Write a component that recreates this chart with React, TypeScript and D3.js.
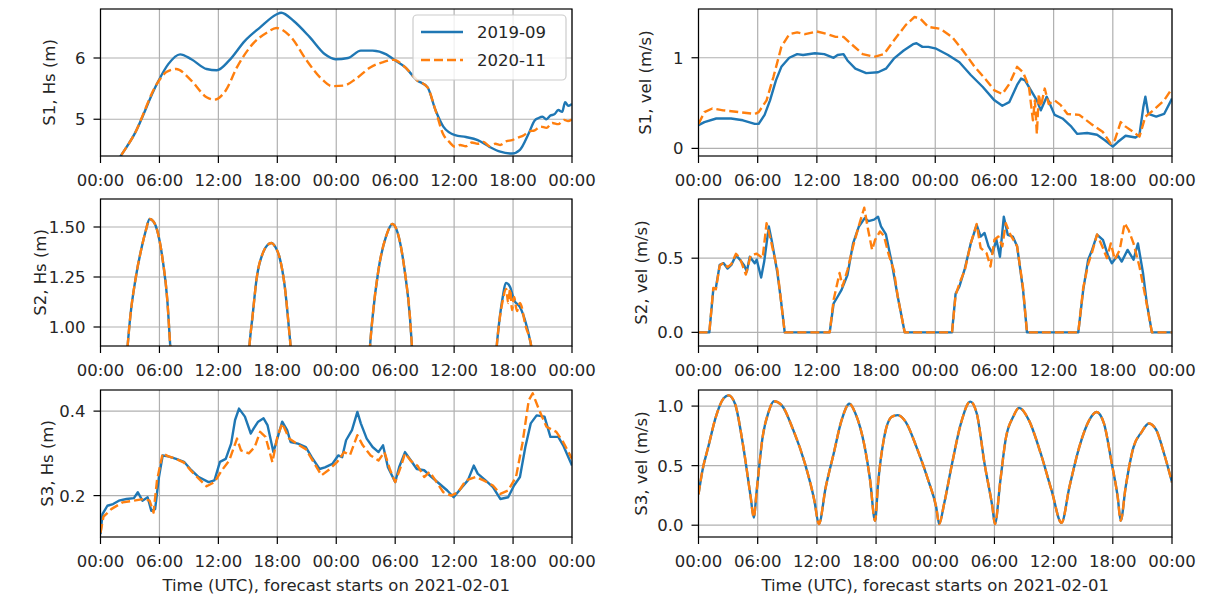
import React, { useEffect, useRef } from "react";
import * as d3 from "d3";

// ---------------- data (hours since 2021-02-01 00:00 UTC, value) ----------------
const START = Date.UTC(2021, 1, 1);
const xTickHours = [0, 6, 12, 18, 24, 30, 36, 42, 48];
const seriesNames = ["2019-09", "2020-11"];
const xLabel = "Time (UTC), forecast starts on 2021-02-01";

const s1Hs2019: [number, number][] = [
  [0, 3.88], [2.06, 4.4], [3.4, 4.74], [5.75, 5.58], [6.9, 5.9], [8.1, 6.06], [9.25, 5.98],
  [10.8, 5.82], [11.85, 5.8], [13.1, 5.96], [14.7, 6.28], [16.25, 6.5], [17.9, 6.71], [18.4, 6.74],
  [19.7, 6.6], [21.3, 6.34], [22.85, 6.06], [23.9, 5.98], [25.2, 6.0], [26.5, 6.12], [27.7, 6.12],
  [29.1, 6.06], [29.9, 5.97], [31, 5.85], [32.2, 5.64], [33.3, 5.52], [34.1, 5.15], [34.9, 4.88],
  [36.1, 4.74], [37.2, 4.71], [38.4, 4.66], [39.6, 4.55], [40.7, 4.47], [41.9, 4.44], [42.7, 4.5],
  [43.6, 4.77], [44.2, 4.98], [44.6, 5.02], [45, 5.04], [45.4, 5.0], [45.8, 5.06], [46.2, 5.08],
  [46.6, 5.15], [47, 5.12], [47.3, 5.28], [47.6, 5.22], [48, 5.25],
];
const s1Hs2020: [number, number][] = [
  [0, 3.88], [2.06, 4.4], [3.4, 4.74], [5.75, 5.58], [6.7, 5.77], [7.7, 5.82], [9.25, 5.63],
  [10.8, 5.36], [11.6, 5.32], [12.75, 5.47], [13.9, 5.85], [15.5, 6.23], [17.0, 6.42], [17.9, 6.49],
  [19.4, 6.34], [20.9, 5.98], [22.5, 5.66], [23.6, 5.54], [24.8, 5.55], [26, 5.66], [27.5, 5.85],
  [28.7, 5.93], [29.85, 5.97], [31, 5.85], [32.2, 5.64], [33.3, 5.52], [34.1, 5.15], [34.9, 4.75],
  [35.5, 4.63], [36.1, 4.55], [36.6, 4.58], [37.2, 4.56], [37.8, 4.62], [38.4, 4.6], [39, 4.63],
  [39.6, 4.56], [40.2, 4.6], [40.7, 4.58], [41.3, 4.64], [41.9, 4.66], [42.5, 4.7], [43.1, 4.74],
  [43.6, 4.8], [44.2, 4.82], [44.8, 4.88], [45.4, 4.86], [46, 4.94], [46.6, 4.92], [47.2, 4.99],
  [47.6, 4.97], [48, 5.0],
];

const s1Vel2019: [number, number][] = [
  [0, 0.256], [0.6, 0.29], [1.8, 0.33], [3.3, 0.33], [4.5, 0.31], [5.7, 0.27], [6.1, 0.27],
  [6.7, 0.37], [7.25, 0.53], [7.85, 0.75], [8.4, 0.9], [9.2, 1.0], [10, 1.04], [10.6, 1.03],
  [11.8, 1.05], [12.75, 1.04], [13.7, 1.0], [14.1, 1.03], [14.7, 1.04], [15.1, 0.97], [15.9, 0.88],
  [17, 0.83], [18.2, 0.84], [19, 0.88], [19.8, 0.99], [20.8, 1.08], [21.75, 1.15], [22.1, 1.16],
  [22.7, 1.12], [23.3, 1.12], [24.1, 1.1], [25.3, 1.03], [26.45, 0.95], [27.6, 0.81], [28.8, 0.68],
  [30, 0.53], [30.8, 0.47], [31.5, 0.51], [32.3, 0.7], [32.7, 0.77], [33.1, 0.75], [33.7, 0.64],
  [34.3, 0.53], [34.7, 0.42], [35.3, 0.57], [36.1, 0.37], [36.9, 0.33], [37.8, 0.24], [38.4, 0.16],
  [39.4, 0.17], [40.4, 0.15], [41.2, 0.09], [42, 0.02], [42.5, 0.07], [43.3, 0.14], [44.3, 0.12],
  [44.7, 0.15], [45.1, 0.46], [45.3, 0.57], [45.6, 0.38], [46.4, 0.35], [47.2, 0.38], [48, 0.55],
];
const s1Vel2020: [number, number][] = [
  [0, 0.27], [0.6, 0.4], [1.4, 0.44], [2.5, 0.42], [4.1, 0.4], [5.7, 0.38], [6.1, 0.4], [6.9, 0.53],
  [7.6, 0.79], [8.4, 1.12], [9.2, 1.26], [10, 1.28], [10.8, 1.26], [12, 1.29], [13.1, 1.26],
  [13.9, 1.23], [14.7, 1.23], [15.5, 1.15], [16.65, 1.04], [17.8, 1.01], [18.8, 1.04], [19.8, 1.19],
  [21, 1.36], [21.9, 1.45], [22.5, 1.43], [23.3, 1.34], [24.5, 1.32], [25.7, 1.23], [26.8, 1.08],
  [28, 0.9], [29.2, 0.75], [30, 0.64], [30.8, 0.6], [31.5, 0.71], [32.3, 0.9], [32.9, 0.84],
  [33.5, 0.68], [33.9, 0.31], [34.1, 0.53], [34.3, 0.16], [34.5, 0.6], [34.7, 0.46], [35.1, 0.66],
  [35.5, 0.49], [36.1, 0.53], [36.7, 0.48], [37.4, 0.38], [38.6, 0.37], [39.8, 0.27], [41, 0.18],
  [41.8, 0.05], [42.2, 0.09], [42.8, 0.29], [43.3, 0.24], [44.1, 0.18], [44.7, 0.13], [45.3, 0.35],
  [46.1, 0.42], [47.2, 0.53], [48, 0.66],
];

// S2 Hs: peaks 1-3 coincide for both forecasts, peak 4 differs
const s2HsPeaks: [number, number][] = [
  [0, 0.5], [2.3, 0.6], [2.76, 0.905], [3.03, 1.05], [3.6, 1.25], [4.2, 1.4], [4.6, 1.48], [5.0, 1.54],
  [5.35, 1.53], [5.75, 1.487], [6.33, 1.336], [6.8, 1.135], [7.1, 0.905], [7.5, 0.6], [14.8, 0.6],
  [15.16, 0.905], [15.47, 1.05], [15.9, 1.244], [16.6, 1.378], [17.0, 1.41], [17.4, 1.42], [17.8, 1.4],
  [18.2, 1.353], [18.8, 1.186], [19.2, 0.985], [19.35, 0.905], [19.7, 0.6], [27.1, 0.6], [27.44, 0.905],
  [27.7, 1.05], [28.3, 1.286], [29.07, 1.453], [29.73, 1.515], [30.43, 1.437], [31, 1.27], [31.5, 1.05],
  [31.7, 0.905], [32.1, 0.6], [40.0, 0.6],
];
const s2HsPeak4_2019: [number, number][] = [
  [40.34, 0.905], [40.5, 0.985], [40.9, 1.135], [41.3, 1.22], [41.7, 1.2], [42.1, 1.135], [42.7, 1.1],
  [43.3, 1.02], [43.7, 0.94], [43.84, 0.905], [44.2, 0.6], [48, 0.6],
];
const s2HsPeak4_2020: [number, number][] = [
  [40.34, 0.905], [40.5, 0.985], [40.9, 1.12], [41.3, 1.19], [41.5, 1.12], [41.7, 1.19], [41.9, 1.085],
  [42.1, 1.15], [42.4, 1.08], [42.7, 1.12], [43.3, 1.0], [43.7, 0.94], [43.84, 0.905], [44.2, 0.6], [48, 0.6],
];

const s2Vel2019: [number, number][] = [
  [0, 0], [1.1, 0], [1.5, 0.29], [1.76, 0.3], [2.15, 0.455], [2.55, 0.466], [2.94, 0.43], [3.33, 0.455],
  [3.8, 0.52], [4.2, 0.49], [4.6, 0.455], [4.9, 0.41], [5.2, 0.51], [5.7, 0.466], [5.9, 0.49], [6.35, 0.37],
  [6.66, 0.477], [7.13, 0.714], [7.45, 0.61], [8.0, 0.4], [8.35, 0.22], [8.74, 0], [13.3, 0], [13.7, 0.196],
  [14.1, 0.24], [14.5, 0.286], [15.1, 0.387], [15.67, 0.6], [16.26, 0.714], [16.85, 0.77], [17.24, 0.75],
  [17.8, 0.76], [18.2, 0.78], [18.5, 0.714], [19, 0.66], [19.6, 0.466], [20.2, 0.24], [20.9, 0], [25.7, 0],
  [26.06, 0.26], [26.45, 0.31], [27, 0.43], [27.6, 0.6], [28.2, 0.725], [28.6, 0.646], [29, 0.67],
  [29.4, 0.58], [29.8, 0.534], [30.2, 0.624], [30.56, 0.51], [30.95, 0.78], [31.35, 0.658], [31.86, 0.646],
  [32.3, 0.58], [32.9, 0.286], [33.3, 0], [38.5, 0], [39, 0.286], [39.5, 0.49], [39.9, 0.556], [40.4, 0.658],
  [41, 0.624], [41.5, 0.52], [41.9, 0.466], [42.5, 0.52], [42.9, 0.477], [43.5, 0.556], [44.1, 0.49],
  [44.55, 0.6], [45.06, 0.4], [45.45, 0.196], [45.96, 0], [48, 0],
];
const s2Vel2020: [number, number][] = [
  [0, 0], [1.1, 0], [1.5, 0.3], [1.76, 0.29], [2.15, 0.45], [2.55, 0.47], [2.94, 0.44], [3.33, 0.46],
  [3.8, 0.53], [4.2, 0.5], [4.8, 0.39], [5.3, 0.52], [5.9, 0.53], [6.5, 0.5], [6.9, 0.736], [7.3, 0.63],
  [8.0, 0.42], [8.35, 0.22], [8.74, 0], [13.3, 0], [13.7, 0.22], [14.3, 0.4], [14.6, 0.31], [15.1, 0.42],
  [15.67, 0.58], [16.26, 0.72], [16.8, 0.84], [17.2, 0.69], [17.6, 0.556], [17.9, 0.624], [18.4, 0.68],
  [18.8, 0.65], [19.3, 0.52], [19.8, 0.42], [20.2, 0.24], [20.9, 0], [25.7, 0], [26.06, 0.25],
  [26.45, 0.33], [27, 0.42], [27.6, 0.6], [28.2, 0.73], [28.6, 0.57], [29.2, 0.534], [29.6, 0.444],
  [30, 0.624], [30.4, 0.646], [30.8, 0.58], [31.15, 0.736], [31.6, 0.66], [32.3, 0.58], [32.9, 0.3],
  [33.3, 0], [38.5, 0], [39, 0.3], [39.5, 0.46], [39.9, 0.54], [40.4, 0.66], [41, 0.568], [41.4, 0.5],
  [41.8, 0.6], [42.2, 0.49], [42.7, 0.556], [43.2, 0.736], [43.6, 0.69], [44.1, 0.6], [44.7, 0.444],
  [45.3, 0.24], [45.96, 0], [48, 0],
];

const s3Hs2019: [number, number][] = [
  [0, 0.109], [0.2, 0.156], [0.7, 0.176], [1.28, 0.18], [1.87, 0.188], [2.64, 0.192], [3.4, 0.194],
  [3.8, 0.208], [4.27, 0.188], [4.8, 0.196], [5.17, 0.164], [5.56, 0.168], [5.95, 0.244], [6.33, 0.295],
  [6.9, 0.293], [7.7, 0.287], [8.5, 0.28], [9.25, 0.26], [10, 0.244], [11, 0.232], [11.6, 0.236],
  [12.16, 0.28], [12.75, 0.287], [13.3, 0.323], [13.7, 0.379], [14.1, 0.406], [14.7, 0.387],
  [15.3, 0.347], [15.6, 0.359], [16.05, 0.375], [16.6, 0.383], [17.0, 0.367], [17.6, 0.303], [18, 0.335],
  [18.5, 0.375], [19, 0.355], [19.35, 0.327], [20.1, 0.323], [20.9, 0.315], [21.5, 0.291], [22.3, 0.263],
  [22.85, 0.267], [23.6, 0.275], [24.2, 0.295], [24.6, 0.291], [25, 0.331], [25.6, 0.355], [26.15, 0.398],
  [26.5, 0.371], [27.1, 0.335], [27.7, 0.315], [28.3, 0.303], [28.76, 0.319], [29.26, 0.267], [30, 0.232],
  [30.4, 0.267], [31, 0.303], [31.6, 0.283], [32.2, 0.263], [32.95, 0.26], [33.7, 0.244], [34.5, 0.228],
  [35.3, 0.212], [35.95, 0.196], [36.8, 0.22], [37.4, 0.236], [38, 0.271], [38.4, 0.252], [39.2, 0.236],
  [39.95, 0.22], [40.7, 0.192], [41.5, 0.196], [42.1, 0.224], [42.7, 0.244], [43.25, 0.315], [43.8, 0.371],
  [44.4, 0.39], [45.2, 0.387], [45.8, 0.339], [46.6, 0.339], [47.1, 0.319], [48, 0.271],
];
const s3Hs2020: [number, number][] = [
  [0, 0.112], [0.3, 0.15], [1.1, 0.168], [2.25, 0.184], [3.4, 0.188], [4.4, 0.192], [5, 0.188],
  [5.4, 0.16], [5.75, 0.236], [6.33, 0.3], [6.9, 0.293], [7.7, 0.287], [8.5, 0.278], [9.25, 0.258],
  [10, 0.24], [10.8, 0.222], [11.6, 0.232], [12.36, 0.26], [13.1, 0.283], [13.9, 0.335], [14.3, 0.307],
  [15.1, 0.3], [15.7, 0.315], [16.25, 0.351], [16.8, 0.339], [17.5, 0.279], [18, 0.339], [18.5, 0.371],
  [19.2, 0.335], [20.1, 0.321], [20.9, 0.31], [21.7, 0.279], [22.5, 0.248], [23.3, 0.262], [24.1, 0.28],
  [24.8, 0.303], [25.4, 0.296], [26.15, 0.343], [26.7, 0.319], [27.5, 0.295], [28.3, 0.283], [28.9, 0.303],
  [29.5, 0.26], [30, 0.232], [30.6, 0.27], [31, 0.3], [31.6, 0.282], [32.3, 0.27], [32.95, 0.244],
  [33.5, 0.256], [34.1, 0.236], [34.9, 0.208], [35.7, 0.2], [36.4, 0.208], [37.2, 0.236], [38.2, 0.244],
  [39, 0.236], [39.95, 0.224], [40.7, 0.204], [41.5, 0.212], [42.3, 0.244], [42.95, 0.323], [43.6, 0.426],
  [44, 0.442], [44.6, 0.406], [45.4, 0.363], [46.4, 0.351], [47.1, 0.327], [48, 0.287],
];

// S3 vel: both forecasts coincide
const s3Vel: [number, number][] = [
  [0, 0.26], [0.4, 0.46], [1, 0.66], [1.76, 0.91], [2.55, 1.065], [3.05, 1.09], [3.7, 1.02], [4.5, 0.68],
  [5.3, 0.23], [5.6, 0.065], [5.9, 0.29], [6.5, 0.74], [7.1, 0.95], [7.64, 1.04], [8.4, 1.01], [9.6, 0.8],
  [10.8, 0.515], [11.75, 0.206], [12.2, 0.01], [12.9, 0.32], [13.7, 0.6], [14.5, 0.88], [15.3, 1.02],
  [15.9, 0.94], [16.85, 0.656], [17.4, 0.375], [17.9, 0.037], [18.2, 0.346], [18.8, 0.727], [19.6, 0.91],
  [20.2, 0.924], [21, 0.868], [22.1, 0.656], [23.3, 0.375], [24.1, 0.15], [24.4, 0.01], [24.9, 0.18],
  [25.7, 0.515], [26.6, 0.854], [27.55, 1.037], [28.2, 0.94], [29, 0.515], [29.8, 0.15], [30.05, 0.01],
  [30.6, 0.375], [31.15, 0.727], [31.9, 0.91], [32.5, 0.985], [33.5, 0.88], [34.7, 0.6], [35.8, 0.29],
  [36.8, 0.02], [37.6, 0.32], [38.6, 0.656], [39.6, 0.88], [40.35, 0.95], [41.1, 0.854], [41.9, 0.515],
  [42.5, 0.234], [42.8, 0.037], [43.3, 0.32], [44.1, 0.656], [44.9, 0.78], [45.65, 0.854], [46.4, 0.8],
  [47.2, 0.6], [48, 0.36],
];

const yLabels = ["S1, Hs (m)", "S1, vel (m/s)", "S2, Hs (m)", "S2, vel (m/s)", "S3, Hs (m)", "S3, vel (m/s)"];
const yDomains: [number, number][] = [[4.4, 6.8], [-0.084, 1.538], [0.905, 1.64], [-0.092, 0.899], [0.102, 0.45], [-0.099, 1.135]];
const yTickValues = [[5, 6], [0, 1], [1.0, 1.25, 1.5], [0, 0.5], [0.2, 0.4], [0, 0.5, 1.0]];
const yTickFormats = ["d", "d", ".2f", ".1f", ".1f", ".1f"];

const BLUE = "#1f77b4";
const ORANGE = "#ff7f0e";
const FONT = "DejaVu Sans";
const FS = 16.5;

export default function App() {
  const ref = useRef<SVGSVGElement>(null);

  useEffect(() => {
    const svg = d3.select(ref.current);
    svg.selectAll("*").remove();

    const colX = [[100.5, 572], [698.5, 1172]];
    const rowY = [[9, 156], [199, 346], [390, 537]];
    const yLabelX = [55, 651, 46, 647, 53, 647];
    const panels = [
      { a: s1Hs2019, b: s1Hs2020, curve: d3.curveMonotoneX },
      { a: s1Vel2019, b: s1Vel2020, curve: d3.curveLinear },
      { a: [...s2HsPeaks, ...s2HsPeak4_2019], b: [...s2HsPeaks, ...s2HsPeak4_2020], curve: d3.curveMonotoneX },
      { a: s2Vel2019, b: s2Vel2020, curve: d3.curveLinear },
      { a: s3Hs2019, b: s3Hs2020, curve: d3.curveLinear },
      { a: s3Vel, b: s3Vel, curve: d3.curveMonotoneX },
    ];
    const toDate = (h: number) => new Date(START + h * 3600e3);
    const fmtTime = d3.utcFormat("%H:%M");

    panels.forEach((p, i) => {
      const col = i % 2;
      const row = Math.floor(i / 2);
      const [x0, x1] = colX[col];
      const [y0, y1] = rowY[row];
      const x = d3.scaleUtc().domain([toDate(0), toDate(48)]).range([x0, x1]);
      const y = d3.scaleLinear().domain(yDomains[i]).range([y1, y0]);
      const g = svg.append("g");

      const clipId = `clip${i}`;
      svg.append("clipPath").attr("id", clipId)
        .append("rect").attr("x", x0).attr("y", y0).attr("width", x1 - x0).attr("height", y1 - y0);

      // grid
      const xt = xTickHours.map(toDate);
      g.selectAll(".gx").data(xt).join("line")
        .attr("x1", (d) => x(d)).attr("x2", (d) => x(d)).attr("y1", y0).attr("y2", y1)
        .attr("stroke", "#b0b0b0").attr("stroke-width", 1.2);
      g.selectAll(".gy").data(yTickValues[i]).join("line")
        .attr("x1", x0).attr("x2", x1).attr("y1", (d) => y(d)).attr("y2", (d) => y(d))
        .attr("stroke", "#b0b0b0").attr("stroke-width", 1.2);

      const line = d3.line<[number, number]>()
        .x((d) => x(toDate(d[0]))).y((d) => y(d[1])).curve(p.curve);
      const lg = g.append("g").attr("clip-path", `url(#${clipId})`);
      lg.append("path").attr("d", line(p.a as [number, number][])).attr("fill", "none")
        .attr("stroke", BLUE).attr("stroke-width", 2.4).attr("stroke-linejoin", "round");
      lg.append("path").attr("d", line(p.b as [number, number][])).attr("fill", "none")
        .attr("stroke", ORANGE).attr("stroke-width", 2.4).attr("stroke-dasharray", "9,4")
        .attr("stroke-linejoin", "round");

      // spines
      g.append("rect").attr("x", x0).attr("y", y0).attr("width", x1 - x0).attr("height", y1 - y0)
        .attr("fill", "none").attr("stroke", "#000").attr("stroke-width", 1.2);

      // x ticks
      xt.forEach((d) => {
        g.append("line").attr("x1", x(d)).attr("x2", x(d)).attr("y1", y1).attr("y2", y1 + 7)
          .attr("stroke", "#000").attr("stroke-width", 1.2);
        g.append("text").attr("x", x(d)).attr("y", y1 + 30).attr("text-anchor", "middle")
          .attr("font-family", FONT).attr("font-size", FS).attr("fill", "#262626").text(fmtTime(d));
      });
      // y ticks
      const fmt = d3.format(yTickFormats[i]);
      yTickValues[i].forEach((v) => {
        g.append("line").attr("x1", x0 - 7).attr("x2", x0).attr("y1", y(v)).attr("y2", y(v))
          .attr("stroke", "#000").attr("stroke-width", 1.2);
        g.append("text").attr("x", x0 - 15).attr("y", y(v)).attr("dy", "0.36em")
          .attr("text-anchor", "end").attr("font-family", FONT).attr("font-size", FS)
          .attr("fill", "#262626").text(fmt(v));
      });
      const ly = (y0 + y1) / 2;
      g.append("text").attr("transform", `translate(${yLabelX[i]},${ly}) rotate(-90)`)
        .attr("text-anchor", "middle").attr("font-family", FONT).attr("font-size", FS)
        .attr("fill", "#262626").text(yLabels[i]);

      if (row === 2) {
        g.append("text").attr("x", (x0 + x1) / 2).attr("y", 591).attr("text-anchor", "middle")
          .attr("font-family", FONT).attr("font-size", FS).attr("fill", "#262626").text(xLabel);
      }

      if (i === 0) {
        const lgd = g.append("g");
        lgd.append("rect").attr("x", x1 - 159).attr("y", y0 + 6).attr("width", 153).attr("height", 65)
          .attr("rx", 4).attr("fill", "rgba(255,255,255,0.8)").attr("stroke", "#cccccc").attr("stroke-width", 1.2);
        seriesNames.forEach((name, k) => {
          const yy = y0 + 23 + k * 28;
          lgd.append("line").attr("x1", x1 - 151).attr("x2", x1 - 109).attr("y1", yy).attr("y2", yy)
            .attr("stroke", k === 0 ? BLUE : ORANGE).attr("stroke-width", 2.4)
            .attr("stroke-dasharray", k === 0 ? null : "9,4");
          lgd.append("text").attr("x", x1 - 95).attr("y", yy).attr("dy", "0.36em")
            .attr("font-family", FONT).attr("font-size", FS).attr("fill", "#262626").text(name);
        });
      }
    });
  }, []);

  return (
    <>
      <style>{`body{margin:0;background:#fff}`}</style>
      <svg ref={ref} width={1205} height={600} style={{ display: "block", background: "#fff" }} />
    </>
  );
}
